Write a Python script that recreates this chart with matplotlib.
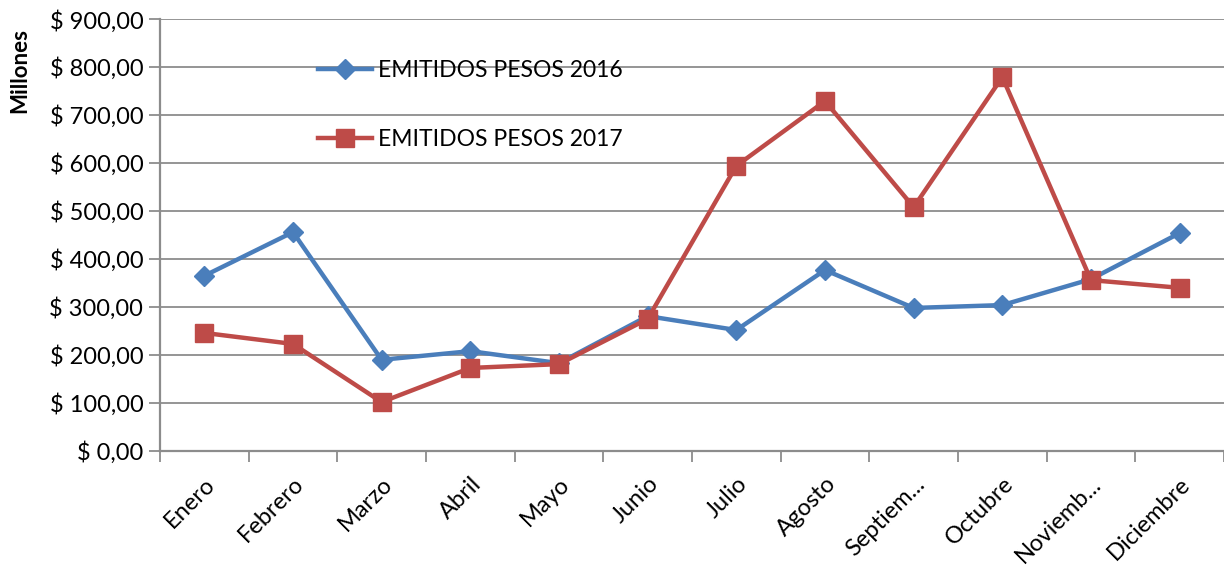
import numpy as np
import matplotlib
matplotlib.use("Agg")
import matplotlib.pyplot as plt
from matplotlib.ticker import FuncFormatter, FixedLocator

plt.rcParams["font.family"] = ["Lato", "DejaVu Sans"]

meses = ["Enero", "Febrero", "Marzo", "Abril", "Mayo", "Junio", "Julio",
         "Agosto", "Septiem...", "Octubre", "Noviemb...", "Diciembre"]
pesos_2016 = [365, 456, 190, 208, 183, 281, 252, 377, 298, 304, 358, 454]
pesos_2017 = [246, 223, 102, 173, 181, 275, 594, 729, 508, 779, 356, 340]

AZUL = "#4A7EBB"
ROJO = "#BE4B48"
GRIS = "#8C8C8C"

fig = plt.figure(figsize=(12.24, 5.66), dpi=100)
ax = fig.add_axes([0.1307, 0.2032, 0.8693, 0.7632])

x = np.arange(len(meses))
ax.plot(x, pesos_2016, color=AZUL, lw=3.2, marker="D", ms=10,
        label="EMITIDOS PESOS 2016", zorder=3)
ax.plot(x, pesos_2017, color=ROJO, lw=3.2, marker="s", ms=12.5,
        label="EMITIDOS PESOS 2017", zorder=4)

ax.set_xlim(-0.5, len(meses) - 0.5)
ax.set_ylim(0, 900)
ax.set_yticks(np.arange(0, 901, 100))
ax.yaxis.set_major_formatter(FuncFormatter(lambda v, p: f"$ {v:,.2f}".replace(".", ",")))
ax.grid(axis="y", color=GRIS, lw=1.3)
ax.set_axisbelow(True)

ax.set_xticks(x)
ax.set_xticklabels(meses, rotation=45, ha="right", rotation_mode="anchor", fontsize=17)
ax.tick_params(axis="x", which="major", length=0, pad=16)
ax.xaxis.set_minor_locator(FixedLocator(np.arange(-0.5, len(meses), 1.0)))
ax.tick_params(axis="x", which="minor", length=8, width=1.3, color=GRIS)
ax.tick_params(axis="y", length=8, width=1.3, color=GRIS, labelsize=17, pad=4)

for s in ["top", "right"]:
    ax.spines[s].set_visible(False)
for s in ["left", "bottom"]:
    ax.spines[s].set_color(GRIS)
    ax.spines[s].set_linewidth(1.6)

ax.set_ylabel("Millones", fontsize=16, fontweight="bold")
ax.yaxis.set_label_coords(-0.122, 0.88)

ax.legend(loc="upper left", bbox_to_anchor=(0.140, 0.927), frameon=False,
          fontsize=16.5, handlelength=2.35, handletextpad=0.26, labelspacing=2.1,
          borderaxespad=0)

fig.savefig("out.png", dpi=100)
